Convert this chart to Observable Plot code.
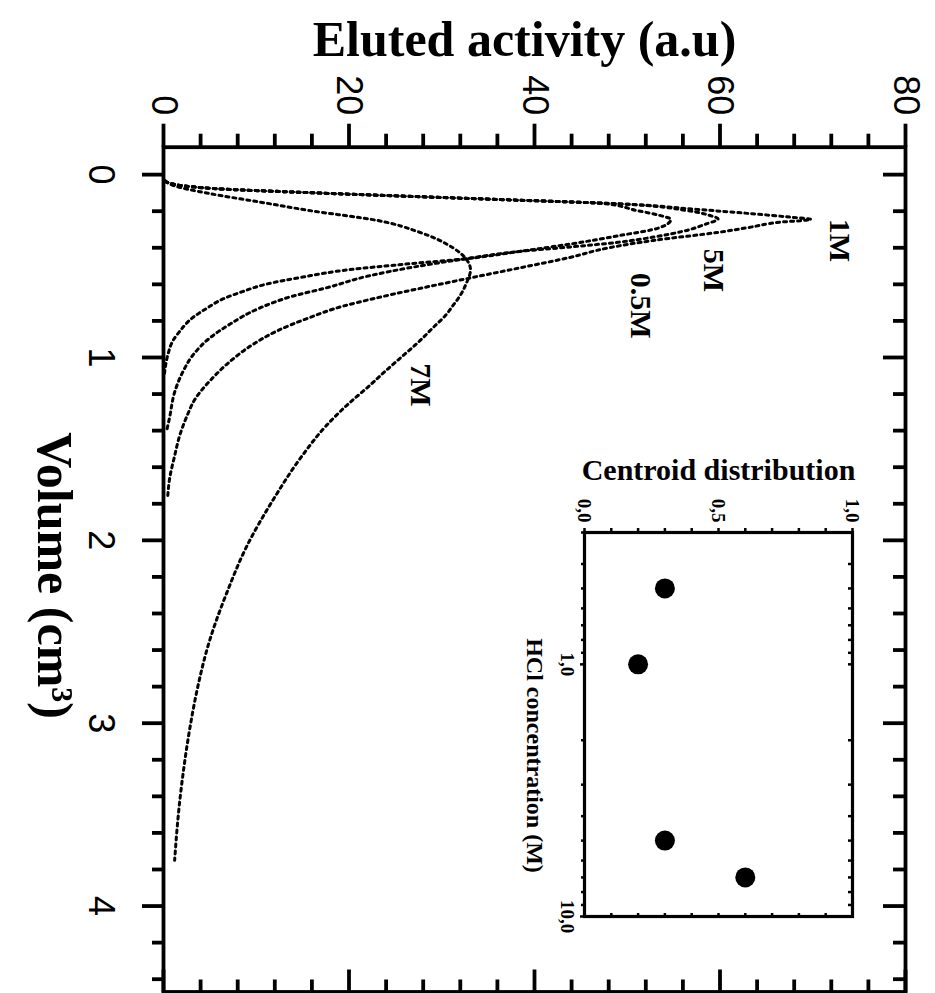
<!DOCTYPE html>
<html><head><meta charset="utf-8">
<script src="https://cdn.jsdelivr.net/npm/d3@7"></script>
<script src="https://cdn.jsdelivr.net/npm/@observablehq/plot@0.6"></script>
<style>
html,body{margin:0;padding:0;background:#fff;overflow:hidden;width:935px;height:993px;}
#rot{position:absolute;left:0;top:0;width:993px;height:935px;transform-origin:0 0;transform:translate(935px,0) rotate(90deg);}
#rot > svg{position:absolute;}
</style></head><body>
<div id="rot"></div>
<script>
// ---- Elution curves (volume in cm3, eluted activity in a.u.) ----
const vol05 = [0.035,0.045,0.08,0.095,0.113,0.14,0.158,0.196,0.223,0.245,0.29,0.333,0.38,0.42,0.46,0.49,0.52,0.56,0.60,0.64,0.68,0.73,0.78,0.86,0.91,0.985,1.09];
const act05 = [0.2,0.5,6.8,13.9,23.3,38.4,47.4,51,53.5,54.7,53.5,49.2,43.8,38.4,32.6,26,20,15,11,8.5,6.4,4.7,3.2,1.7,1.0,0.47,0.1];

const vol1 = [0.035,0.045,0.08,0.095,0.113,0.14,0.16,0.19,0.214,0.232,0.245,0.26,0.29,0.315,0.36,0.40,0.453,0.51,0.57,0.68,0.72,0.783,0.857,0.93,1.04,1.13,1.22,1.33,1.43,1.54,1.665,1.757];
const act1 = [0.2,0.5,6.8,13.9,23.3,38.4,49.2,57.5,63.5,67.5,69.8,66.5,63,59.9,52.8,48,43.8,38.4,32.6,22.5,19.3,15.7,12.15,9.6,6.76,4.96,3.5,2.45,1.73,1.19,0.65,0.46];

const vol5 = [0.035,0.045,0.08,0.095,0.113,0.14,0.16,0.196,0.225,0.242,0.27,0.31,0.34,0.37,0.395,0.42,0.46,0.553,0.62,0.665,0.73,0.82,0.893,0.985,1.077,1.19,1.33,1.41];
const act5 = [0.2,0.5,6.8,13.9,23.3,38.4,49.2,56.4,59,59.8,58.5,56,53,49,44,38.4,32.6,22.2,17.5,13.9,10.35,7.1,5.0,3.2,2.1,1.2,0.65,0.3];

const vol7 = [0.035,0.058,0.104,0.15,0.196,0.25,0.315,0.40,0.46,0.52,0.60,0.66,0.71,0.77,0.84,0.92,1.0,1.08,1.15,1.26,1.37,1.555,1.78,2.03,2.29,2.56,2.80,3.04,3.28,3.45,3.75];
const act7 = [0.2,1.0,5,10.4,15.7,23,27.6,31.2,32.6,33.1,32.6,32.0,31.3,30.4,29.0,27.4,25.6,23.8,22.3,19.8,17.6,14.7,11.8,9.0,6.8,4.9,3.7,2.8,2.1,1.7,1.2];

// curve labels
const curveLabels = ["1M","5M","0.5M","7M"];
const curveLabelVolume = [0.36,0.524,0.716,1.15];
const curveLabelActivity = [72.9,59.3,51.4,27.7];

// axes
const volumeTicks = [0,1,2,3,4];
const volumeMinorTicks = [0.2,0.4,0.6,0.8,1.2,1.4,1.6,1.8,2.2,2.4,2.6,2.8,3.2,3.4,3.6,3.8,4.2,4.4];
const activityTicks = [0,20,40,60,80];
const activityMinorTicks = [4,8,12,16,24,28,32,36,44,48,52,56,64,68,72,76];

// ---- Inset: centroid distribution vs HCl concentration ----
const hclConcentration = [0.5,1,5,7];
const centroid = [0.30,0.20,0.30,0.60];
const hclTicks = [1,10];
const hclTickLabels = ["1,0","10,0"];
const hclMinorTicks = [0.3,0.4,0.5,0.6,0.7,0.8,0.9,2,3,4,5,6,7,8,9];
const centroidTicks = [0,0.5,1];
const centroidTickLabels = ["0,0","0,5","1,0"];
const centroidMinorTicks = [0.1,0.2,0.3,0.4,0.6,0.7,0.8,0.9];

const series = [
  {name:"0.5M", v:vol05, a:act05},
  {name:"1M", v:vol1, a:act1},
  {name:"5M", v:vol5, a:act5},
  {name:"7M", v:vol7, a:act7}
];
const rows = series.flatMap(s => s.v.map((v,i) => ({series:s.name, volume:v, activity:s.a[i]})));
const labelRows = curveLabels.map((t,i) => ({text:t, volume:curveLabelVolume[i], activity:curveLabelActivity[i]}));

const serif = "'Liberation Serif', 'Times New Roman', serif";
const sans = "'Liberation Sans', Arial, sans-serif";
const AX = 3.8;

const main = Plot.plot({
  width: 993, height: 935,
  marginLeft: 146.7, marginRight: 1.5, marginTop: 29, marginBottom: 164,
  style: {background: "transparent", overflow: "visible", fontFamily: sans},
  x: {domain: [-0.15, 4.47]},
  y: {domain: [0, 80]},
  marks: [
    Plot.axisX({ticks: volumeTicks, tickSize: 22, tickPadding: 27, strokeWidth: AX, fontSize: 36, tickFormat: d => String(d), label: null}),
    Plot.axisX({ticks: volumeMinorTicks, tickSize: 12, strokeWidth: AX, text: null, label: null}),
    Plot.axisX({anchor: "top", ticks: volumeTicks, tickSize: -22, strokeWidth: AX, text: null, label: null}),
    Plot.axisX({anchor: "top", ticks: volumeMinorTicks, tickSize: -12, strokeWidth: AX, text: null, label: null}),
    Plot.axisY({ticks: activityTicks, tickSize: 23, tickPadding: 9, strokeWidth: AX, fontSize: 36, tickFormat: d => String(d), label: null}),
    Plot.axisY({ticks: activityMinorTicks, tickSize: 13, strokeWidth: AX, text: null, label: null}),
    Plot.axisY({anchor: "right", ticks: activityTicks, tickSize: -23, strokeWidth: AX, text: null, label: null}),
    Plot.axisY({anchor: "right", ticks: activityMinorTicks, tickSize: -13, strokeWidth: AX, text: null, label: null}),
    Plot.frame({stroke: "#000", strokeWidth: AX}),
    Plot.line(rows, {x: "volume", y: "activity", z: "series", curve: "monotone-x", stroke: "#000", strokeWidth: 3, strokeDasharray: "3,4"}),
    Plot.text(labelRows, {x: "volume", y: "activity", text: "text", fontSize: 30, fontWeight: "bold", fontFamily: serif}),
    Plot.text(["Eluted activity (a.u)"], {text: d => d, frameAnchor: "left", textAnchor: "middle", lineAnchor: "middle", rotate: -90, dx: -107, dy: 10, fontSize: 50, fontWeight: "bold", fontFamily: serif}),
    Plot.text(["Volume (cm³)"], {text: d => d, frameAnchor: "bottom", textAnchor: "middle", lineAnchor: "middle", dx: 6, dy: 110, fontSize: 50, fontWeight: "bold", fontFamily: serif})
  ]
});

const inset = Plot.plot({
  width: 593, height: 420,
  marginLeft: 132, marginRight: 77, marginTop: 82, marginBottom: 70,
  style: {background: "transparent", overflow: "visible", fontFamily: serif},
  x: {type: "log", domain: [0.3, 10]},
  y: {domain: [0, 1]},
  marks: [
    Plot.axisX({ticks: hclTicks, tickFormat: d => hclTickLabels[hclTicks.indexOf(d)], tickSize: 5, tickPadding: 5, strokeWidth: 2.5, fontSize: 19, fontWeight: "bold", label: null}),
    Plot.axisX({ticks: hclMinorTicks, tickSize: 4, strokeWidth: 2.5, text: null, label: null}),
    Plot.axisX({anchor: "top", ticks: hclTicks.concat(hclMinorTicks), tickSize: -4, strokeWidth: 2.5, text: null, label: null}),
    Plot.axisY({ticks: centroidTicks, tickFormat: d => centroidTickLabels[centroidTicks.indexOf(d)], tickSize: 4, tickPadding: 6, strokeWidth: 2.5, fontSize: 19, fontWeight: "bold", label: null}),
    Plot.axisY({ticks: centroidMinorTicks, tickSize: 4, strokeWidth: 2.5, text: null, label: null}),
    Plot.axisY({anchor: "right", ticks: centroidTicks.concat(centroidMinorTicks), tickSize: -4, strokeWidth: 2.5, text: null, label: null}),
    Plot.frame({stroke: "#000", strokeWidth: 3.2}),
    Plot.dot(hclConcentration.map((h,i) => ({hcl: h, centroid: centroid[i]})), {x: "hcl", y: "centroid", r: 10, fill: "#000"}),
    Plot.text(["Centroid distribution"], {text: d => d, frameAnchor: "left", textAnchor: "middle", lineAnchor: "middle", rotate: -90, dx: -62, fontSize: 30, fontWeight: "bold"}),
    Plot.text(["HCl concentration (M)"], {text: d => d, frameAnchor: "bottom", textAnchor: "middle", lineAnchor: "middle", dx: 31, dy: 50, fontSize: 24, fontWeight: "bold"})
  ]
});

const host = document.getElementById("rot");
main.style.left = "0px"; main.style.top = "0px";
inset.style.left = "400px"; inset.style.top = "0px";
host.appendChild(main);
host.appendChild(inset);
</script>
</body></html>
